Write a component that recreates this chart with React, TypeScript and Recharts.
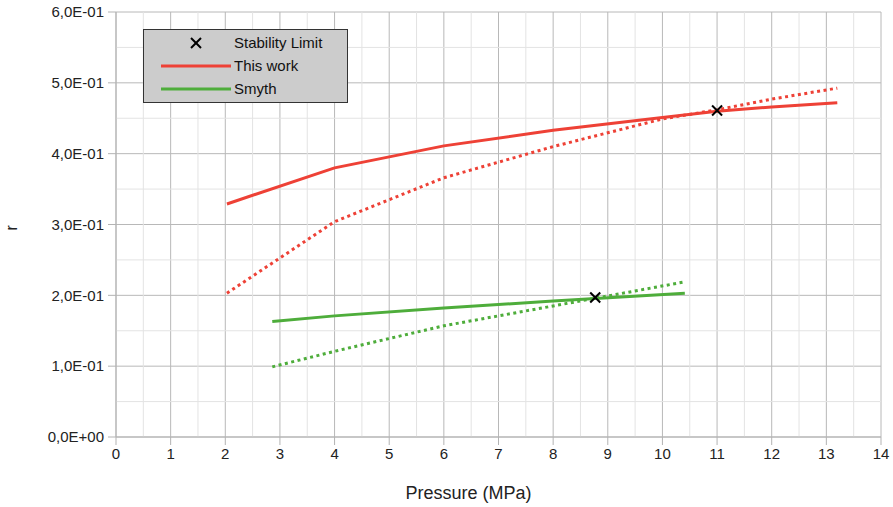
import {
  CartesianGrid,
  ComposedChart,
  Line,
  ReferenceLine,
  Scatter,
  XAxis,
  YAxis,
} from 'recharts';

// pressures (MPa) and r values
const thisWorkPressure = [2.03, 4, 6, 8, 10, 11, 12, 13.2];
const thisWorkSolid = [0.329, 0.38, 0.411, 0.433, 0.451, 0.46, 0.466, 0.472];
const thisWorkDotted = [0.203, 0.304, 0.366, 0.41, 0.449, 0.462, 0.477, 0.4925];

const smythPressure = [2.86, 4, 6, 8, 10.41];
const smythSolid = [0.163, 0.171, 0.182, 0.192, 0.203];
const smythDotted = [0.099, 0.121, 0.157, 0.185, 0.219];

const stabilityPressure = [11.0, 8.77];
const stabilityR = [0.461, 0.197];

const xTicks = [0, 1, 2, 3, 4, 5, 6, 7, 8, 9, 10, 11, 12, 13, 14];
const xMinor = [0.5, 1.5, 2.5, 3.5, 4.5, 5.5, 6.5, 7.5, 8.5, 9.5, 10.5, 11.5, 12.5, 13.5];
const yTicks = [0, 0.1, 0.2, 0.3, 0.4, 0.5, 0.6];
const yMinor = [0.05, 0.15, 0.25, 0.35, 0.45, 0.55];

const RED = '#ee4136';
const GREEN = '#4ead3b';
const FONT = '"Liberation Sans", Arial, sans-serif';

const legendItems = [
  { label: 'Stability Limit', kind: 'cross', color: '#000' },
  { label: 'This work', kind: 'line', color: RED },
  { label: 'Smyth', kind: 'line', color: GREEN },
];

const toRows = (xs: number[], ys: number[]) => xs.map((p, i) => ({ p, r: ys[i] }));

const fmtSci = (v: number) => {
  if (v === 0) return '0,0E+00';
  const exp = Math.floor(Math.log10(Math.abs(v)) + 1e-9);
  const mant = v / Math.pow(10, exp);
  const sign = exp < 0 ? '-' : '+';
  return `${mant.toFixed(1).replace('.', ',')}E${sign}${String(Math.abs(exp)).padStart(2, '0')}`;
};

const Cross = (props: { cx?: number; cy?: number }) => {
  const { cx = 0, cy = 0 } = props;
  const s = 5;
  return (
    <g stroke="#000" strokeWidth={2}>
      <line x1={cx - s} y1={cy - s} x2={cx + s} y2={cy + s} />
      <line x1={cx - s} y1={cy + s} x2={cx + s} y2={cy - s} />
    </g>
  );
};

const LegendBox = () => (
  <div
    style={{
      position: 'absolute',
      left: 143,
      top: 29,
      width: 205,
      height: 74,
      background: '#cccccc',
      border: '1px solid #333',
      fontFamily: FONT,
      fontSize: 15,
      color: '#111',
      boxSizing: 'border-box',
      paddingTop: 1,
    }}
  >
    {legendItems.map((item) => (
      <div key={item.label} style={{ display: 'flex', alignItems: 'center', height: 23 }}>
        <svg width={90} height={20}>
          {item.kind === 'cross' ? (
            <Cross cx={52} cy={10} />
          ) : (
            <line x1={17} y1={10} x2={87} y2={10} stroke={item.color} strokeWidth={3} />
          )}
        </svg>
        <span>{item.label}</span>
      </div>
    ))}
  </div>
);

export default function App() {
  const tickStyle = { fontSize: 15, fill: '#222', fontFamily: FONT };
  return (
    <div style={{ position: 'absolute', left: 0, top: 0, width: 893, height: 507, background: '#fff' }}>
      <ComposedChart width={893} height={507} margin={{ top: 12, right: 12, bottom: 0, left: 0 }}>
        {xMinor.map((x) => (
          <ReferenceLine key={`vx${x}`} x={x} stroke="#e3e3e3" strokeWidth={1} />
        ))}
        {yMinor.map((y) => (
          <ReferenceLine key={`hy${y}`} y={y} stroke="#e3e3e3" strokeWidth={1} />
        ))}
        <CartesianGrid stroke="#b8b8b8" strokeDasharray="" />
        <XAxis
          type="number"
          dataKey="p"
          domain={[0, 14]}
          ticks={xTicks}
          interval={0}
          height={70}
          tickSize={8}
          tickMargin={3}
          tick={tickStyle}
          stroke="#b3b3b3"
          allowDuplicatedCategory={false}
          label={{
            value: 'Pressure (MPa)',
            position: 'insideBottom',
            offset: 8,
            dx: -30,
            style: { fontSize: 18, fill: '#222', fontFamily: FONT },
          }}
        />
        <YAxis
          type="number"
          dataKey="r"
          domain={[0, 0.6]}
          ticks={yTicks}
          interval={0}
          width={116}
          tickSize={8}
          tickMargin={4}
          tick={tickStyle}
          tickFormatter={fmtSci}
          stroke="#b3b3b3"
          label={{
            value: 'r',
            angle: -90,
            position: 'insideLeft',
            offset: 11,
            dy: 6,
            style: { fontSize: 16, fill: '#222', fontFamily: FONT },
          }}
        />
        <Line
          data={toRows(thisWorkPressure, thisWorkDotted)}
          dataKey="r"
          stroke={RED}
          strokeWidth={3}
          strokeDasharray="3 3.5"
          dot={false}
          type="linear"
          isAnimationActive={false}
        />
        <Line
          data={toRows(thisWorkPressure, thisWorkSolid)}
          dataKey="r"
          stroke={RED}
          strokeWidth={3}
          dot={false}
          type="linear"
          isAnimationActive={false}
        />
        <Line
          data={toRows(smythPressure, smythDotted)}
          dataKey="r"
          stroke={GREEN}
          strokeWidth={3}
          strokeDasharray="3 3.5"
          dot={false}
          type="linear"
          isAnimationActive={false}
        />
        <Line
          data={toRows(smythPressure, smythSolid)}
          dataKey="r"
          stroke={GREEN}
          strokeWidth={3}
          dot={false}
          type="linear"
          isAnimationActive={false}
        />
        <Scatter
          data={toRows(stabilityPressure, stabilityR)}
          dataKey="r"
          shape={<Cross />}
          isAnimationActive={false}
        />
      </ComposedChart>
      <LegendBox />
    </div>
  );
}
